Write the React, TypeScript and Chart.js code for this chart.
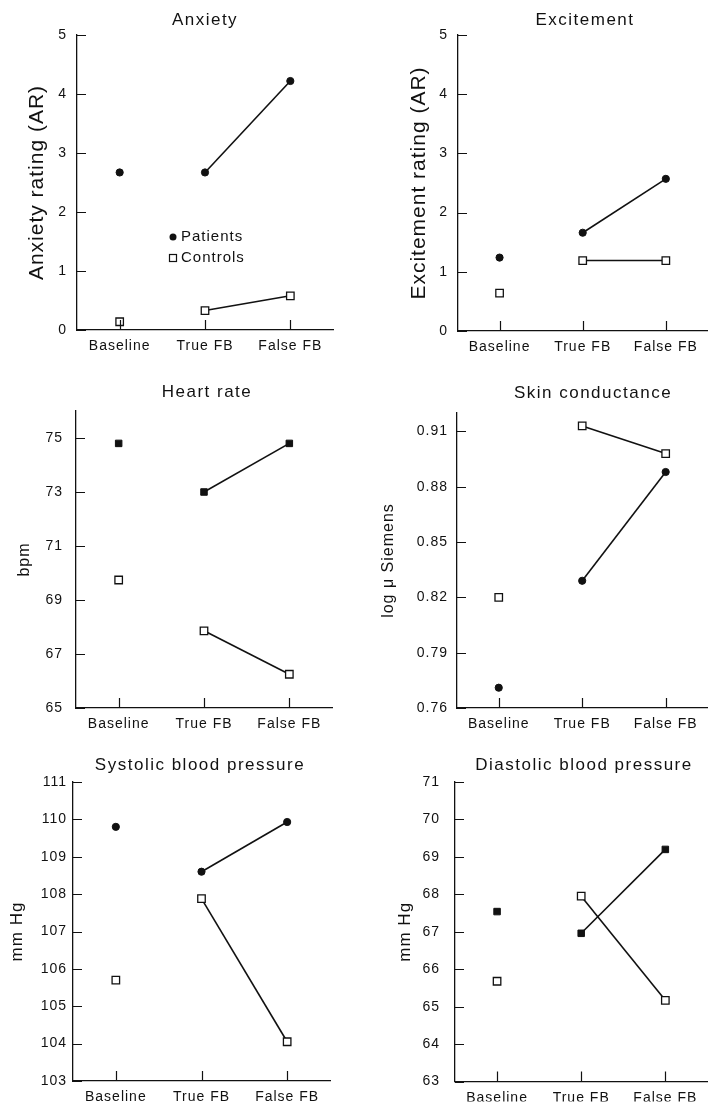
import React, { useEffect, useRef } from 'react';
import { Chart, registerables } from 'chart.js';

Chart.register(...registerables);

const FONT = '"Liberation Sans", Arial, sans-serif';
const INK = '#111';

const categories = ['Baseline', 'True FB', 'False FB'];

const anxietyPatients = [2.67, 2.67, 4.22];
const anxietyControls = [0.14, 0.33, 0.58];
const anxietyTicks = [0, 1, 2, 3, 4, 5];

const excitementPatients = [1.24, 1.66, 2.57];
const excitementControls = [0.64, 1.19, 1.19];
const excitementTicks = [0, 1, 2, 3, 4, 5];

const heartPatients = [74.8, 73.0, 74.8];
const heartControls = [69.74, 67.86, 66.25];
const heartTicks = [65, 67, 69, 71, 73, 75];

const skinPatients = [0.771, 0.829, 0.888];
const skinControls = [0.82, 0.913, 0.898];
const skinTicks = [0.76, 0.79, 0.82, 0.85, 0.88, 0.91];

const systolicPatients = [109.8, 108.6, 109.93];
const systolicControls = [105.7, 107.88, 104.05];
const systolicTicks = [103, 104, 105, 106, 107, 108, 109, 110, 111];

const diastolicPatients = [67.54, 66.96, 69.2];
const diastolicControls = [65.68, 67.95, 65.17];
const diastolicTicks = [63, 64, 65, 66, 67, 68, 69, 70, 71];

type Panel = {
  title: string;
  yTitle: string;
  patients: number[];
  controls: number[];
  ticks: number[];
  min: number;
  max: number;
  decimals: number;
  box: { x: number; y: number; w: number; h: number };
  area: { l: number; r: number; t: number; b: number };
  titleX: number;
  titleY: number;
  yTitleX: number;
  yTitleSize: number;
  tickPad: number;
  patientStyle: string;
  legend?: boolean;
};

const panels: Panel[] = [
  {
    title: 'Anxiety', yTitle: 'Anxiety rating (AR)', patients: anxietyPatients, controls: anxietyControls,
    ticks: anxietyTicks, min: 0, max: 5, decimals: 0,
    box: { x: 0, y: 0, w: 357, h: 365 }, area: { l: 77, r: 333, t: 35, b: 330 },
    titleX: 205, titleY: 20, yTitleX: 37, yTitleSize: 21, tickPad: 10, patientStyle: 'circle', legend: true,
  },
  {
    title: 'Excitement', yTitle: 'Excitement rating (AR)', patients: excitementPatients, controls: excitementControls,
    ticks: excitementTicks, min: 0, max: 5, decimals: 0,
    box: { x: 357, y: 0, w: 357, h: 365 }, area: { l: 458, r: 714, t: 35, b: 331 },
    titleX: 585, titleY: 20, yTitleX: 419, yTitleSize: 21, tickPad: 10, patientStyle: 'circle',
  },
  {
    title: 'Heart rate', yTitle: 'bpm', patients: heartPatients, controls: heartControls,
    ticks: heartTicks, min: 65, max: 76, decimals: 0,
    box: { x: 0, y: 365, w: 357, h: 370 }, area: { l: 76, r: 332, t: 411, b: 708 },
    titleX: 207, titleY: 392, yTitleX: 25, yTitleSize: 16, tickPad: 13, patientStyle: 'rect',
  },
  {
    title: 'Skin conductance', yTitle: 'log \u03bc Siemens', patients: skinPatients, controls: skinControls,
    ticks: skinTicks, min: 0.76, max: 0.92, decimals: 2,
    box: { x: 357, y: 365, w: 357, h: 370 }, area: { l: 457, r: 714, t: 413, b: 708 },
    titleX: 593, titleY: 393, yTitleX: 389, yTitleSize: 16, tickPad: 9, patientStyle: 'circle',
  },
  {
    title: 'Systolic blood pressure', yTitle: 'mm Hg', patients: systolicPatients, controls: systolicControls,
    ticks: systolicTicks, min: 103, max: 111, decimals: 0,
    box: { x: 0, y: 735, w: 357, h: 370 }, area: { l: 73, r: 330, t: 782, b: 1081 },
    titleX: 200, titleY: 765, yTitleX: 17, yTitleSize: 17, tickPad: 6, patientStyle: 'circle',
  },
  {
    title: 'Diastolic blood pressure', yTitle: 'mm Hg', patients: diastolicPatients, controls: diastolicControls,
    ticks: diastolicTicks, min: 63, max: 71, decimals: 0,
    box: { x: 357, y: 735, w: 357, h: 370 }, area: { l: 455, r: 714, t: 782, b: 1082 },
    titleX: 584, titleY: 765, yTitleX: 405, yTitleSize: 17, tickPad: 15, patientStyle: 'rect',
  },
];

const X_H = 20;

function PanelChart({ p }: { p: Panel }) {
  const ref = useRef<HTMLCanvasElement | null>(null);

  useEffect(() => {
    if (!ref.current) return;
    const { box, area } = p;
    const yLine = p.yTitleSize * 1.2;

    const deco = {
      id: 'deco_' + p.title.replace(/\s/g, ''),
      beforeDraw(chart: any) {
        chart.ctx.letterSpacing = '1px';
      },
      afterDraw(chart: any) {
        const { ctx, chartArea } = chart;
        const x = chart.scales.x;
        const y = chart.scales.y;
        ctx.save();
        // inward tick marks
        ctx.strokeStyle = INK;
        ctx.lineWidth = 1.2;
        ctx.beginPath();
        y.ticks.forEach((t: any) => {
          const py = Math.round(y.getPixelForValue(t.value)) + 0.5;
          ctx.moveTo(chartArea.left, py);
          ctx.lineTo(chartArea.left + 9, py);
        });
        x.ticks.forEach((_t: any, i: number) => {
          const px = Math.round(x.getPixelForTick(i)) + 0.5;
          ctx.moveTo(px, chartArea.bottom);
          ctx.lineTo(px, chartArea.bottom - 10);
        });
        ctx.stroke();
        // panel title
        ctx.fillStyle = INK;
        ctx.font = `17px ${FONT}`;
        ctx.letterSpacing = '1.5px';
        ctx.textAlign = 'center';
        ctx.textBaseline = 'middle';
        ctx.fillText(p.title, p.titleX - box.x, p.titleY - box.y);
        // legend
        if (p.legend) {
          ctx.letterSpacing = '1px';
          ctx.font = `15px ${FONT}`;
          ctx.textAlign = 'left';
          const lx = 173 - box.x;
          const ly1 = 237 - box.y;
          const ly2 = 258 - box.y;
          ctx.beginPath();
          ctx.arc(lx, ly1, 3.5, 0, Math.PI * 2);
          ctx.fill();
          ctx.lineWidth = 1.2;
          ctx.strokeRect(lx - 3.5, ly2 - 3.5, 7, 7);
          ctx.fillText('Patients', lx + 8, ly1);
          ctx.fillText('Controls', lx + 8, ly2);
        }
        ctx.restore();
      },
    };

    const hideFirst = (c: any) => (c.p0DataIndex === 0 ? 'rgba(0,0,0,0)' : INK);

    const chart = new Chart(ref.current, {
      type: 'line',
      data: {
        labels: categories,
        datasets: [
          {
            label: 'Controls',
            data: p.controls,
            borderColor: INK,
            borderWidth: 1.6,
            pointStyle: 'rect',
            pointRadius: 5.3,
            pointBackgroundColor: '#fff',
            pointBorderColor: INK,
            pointBorderWidth: 1.3,
            segment: { borderColor: hideFirst },
          },
          {
            label: 'Patients',
            data: p.patients,
            borderColor: INK,
            borderWidth: 1.6,
            pointStyle: p.patientStyle as any,
            pointRadius: p.patientStyle === 'rect' ? 4.6 : 3.6,
            pointBackgroundColor: INK,
            pointBorderColor: INK,
            pointBorderWidth: 1,
            segment: { borderColor: hideFirst },
          },
        ],
      },
      options: {
        animation: false,
        responsive: false,
        maintainAspectRatio: false,
        events: [],
        layout: {
          padding: {
            left: 0,
            top: area.t - box.y,
            right: box.x + box.w - area.r,
            bottom: box.y + box.h - area.b - X_H,
          },
        },
        plugins: {
          legend: { display: false },
          tooltip: { enabled: false },
          title: { display: false },
        },
        scales: {
          x: {
            type: 'category',
            offset: true,
            grid: { display: false, drawTicks: false },
            border: { display: true, color: INK, width: 1.3 },
            ticks: {
              color: INK,
              font: { family: FONT, size: 14 },
              padding: 8,
              autoSkip: false,
              maxRotation: 0,
            },
            afterFit: (s: any) => {
              s.height = X_H;
            },
          },
          y: {
            type: 'linear',
            min: p.min,
            max: p.max,
            grid: { display: false, drawTicks: false },
            border: { display: true, color: INK, width: 1.3 },
            ticks: {
              color: INK,
              font: { family: FONT, size: 14 },
              padding: p.tickPad,
              callback: (v: any) => Number(v).toFixed(p.decimals),
            },
            afterBuildTicks: (s: any) => {
              s.ticks = p.ticks.map((v) => ({ value: v }));
            },
            afterFit: (s: any) => {
              s.width = area.l - box.x;
            },
            title: {
              display: true,
              text: p.yTitle,
              color: INK,
              font: { family: FONT, size: p.yTitleSize },
              padding: { top: p.yTitleX - box.x - yLine / 2, bottom: 0 },
            },
          },
        },
      },
      plugins: [deco],
    } as any);

    return () => chart.destroy();
  }, [p]);

  return (
    <canvas
      ref={ref}
      width={p.box.w}
      height={p.box.h}
      style={{
        position: 'absolute',
        left: p.box.x,
        top: p.box.y,
        width: p.box.w,
        height: p.box.h,
        display: 'block',
      }}
    />
  );
}

export default function App() {
  return (
    <div
      style={{
        position: 'absolute',
        left: 0,
        top: 0,
        width: 714,
        height: 1105,
        background: '#fff',
        overflow: 'hidden',
      }}
    >
      {panels.map((p) => (
        <PanelChart key={p.title} p={p} />
      ))}
    </div>
  );
}
